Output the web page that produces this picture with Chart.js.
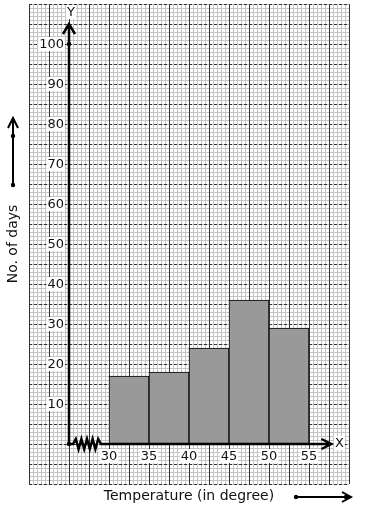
<!DOCTYPE html>
<html>
<head>
<meta charset="utf-8">
<script src="https://cdn.jsdelivr.net/npm/chart.js@4"></script>
<style>
  body { margin: 0; background: #fff; }
  canvas { display: block; }
</style>
</head>
<body>
<canvas id="histo" width="371" height="510"></canvas>
<script>
// dados do histograma
var classEdges = [30, 35, 40, 45, 50, 55];
var noOfDays = [17, 18, 24, 36, 29];
var xTickLabels = [30, 35, 40, 45, 50, 55];
var yTickLabels = [10, 20, 30, 40, 50, 60, 70, 80, 90, 100];

var xTitle = 'Temperature (in degree)';
var yTitle = 'No. of days';

var barPoints = noOfDays.map(function (d, i) {
  return { x: (classEdges[i] + classEdges[i + 1]) / 2, y: d };
});

var FONT = '13px "DejaVu Sans", sans-serif';
var TITLE_FONT = '14px "DejaVu Sans", sans-serif';

function labelWithBg(ctx, text, x, y, align) {
  ctx.font = FONT;
  var w = ctx.measureText(text).width;
  var left = align === 'right' ? x - w : (align === 'center' ? x - w / 2 : x);
  ctx.fillStyle = '#fff';
  ctx.fillRect(left - 1, y - 7, w + 2, 14);
  ctx.fillStyle = '#111';
  ctx.textAlign = 'left';
  ctx.textBaseline = 'middle';
  ctx.fillText(text, left, y + 1);
}

function dot(ctx, x, y) {
  ctx.beginPath();
  ctx.arc(x, y, 2.2, 0, Math.PI * 2);
  ctx.fillStyle = '#000';
  ctx.fill();
}

// papel milimetrado
var gridPlugin = {
  id: 'graphPaper',
  beforeDatasetsDraw: function (chart) {
    var ctx = chart.ctx;
    var xs = chart.scales.x, ys = chart.scales.y;
    var a = chart.chartArea;
    ctx.save();
    ctx.lineWidth = 1;
    // linhas finas
    ctx.strokeStyle = '#c4c4c4';
    ctx.beginPath();
    for (var v = xs.min; v <= xs.max + 0.01; v += 0.5) {
      var px = Math.round(xs.getPixelForValue(v)) + 0.5;
      ctx.moveTo(px, a.top); ctx.lineTo(px, a.bottom);
    }
    for (var u = ys.min; u <= ys.max + 0.01; u += 1) {
      var py = Math.round(ys.getPixelForValue(u)) + 0.5;
      ctx.moveTo(a.left, py); ctx.lineTo(a.right, py);
    }
    ctx.stroke();
    // linhas grossas verticais
    ctx.strokeStyle = '#333';
    ctx.beginPath();
    for (v = xs.min; v <= xs.max + 0.01; v += 2.5) {
      px = Math.round(xs.getPixelForValue(v)) + 0.5;
      ctx.moveTo(px, a.top); ctx.lineTo(px, a.bottom);
    }
    ctx.stroke();
    // linhas grossas horizontais (tracejadas)
    ctx.setLineDash([3, 2]);
    ctx.beginPath();
    for (u = ys.min; u <= ys.max + 0.01; u += 5) {
      py = Math.round(ys.getPixelForValue(u)) + 0.5;
      ctx.moveTo(a.left, py); ctx.lineTo(a.right, py);
    }
    ctx.stroke();
    ctx.restore();
  },
  afterDatasetsDraw: function (chart) {
    var ctx = chart.ctx;
    var xs = chart.scales.x, ys = chart.scales.y;
    var ox = xs.getPixelForValue(25), oy = ys.getPixelForValue(0);
    ctx.save();
    ctx.strokeStyle = '#000';
    ctx.lineWidth = 2.5;
    ctx.lineCap = 'butt';

    // eixo Y
    var top = ys.getPixelForValue(105);
    ctx.beginPath();
    ctx.moveTo(ox, oy); ctx.lineTo(ox, top);
    ctx.moveTo(ox - 6, top + 10); ctx.lineTo(ox, top); ctx.lineTo(ox + 6, top + 10);
    ctx.stroke();

    // eixo X com quebra
    var brk0 = ox + 4, brk1 = xs.getPixelForValue(29);
    var tip = xs.getPixelForValue(57.8);
    ctx.beginPath();
    ctx.moveTo(ox, oy); ctx.lineTo(brk0, oy);
    var n = 10, step = (brk1 - brk0) / n;
    for (var i = 1; i <= n; i++) {
      ctx.lineTo(brk0 + step * i, oy + (i === n ? 0 : (i % 2 ? -5 : 5)));
    }
    ctx.lineTo(tip, oy);
    ctx.moveTo(tip - 10, oy - 5); ctx.lineTo(tip, oy); ctx.lineTo(tip - 10, oy + 5);
    ctx.stroke();
    dot(ctx, ox, oy);
    dot(ctx, ox, ys.getPixelForValue(100));

    // rótulos dos eixos
    yTickLabels.forEach(function (t) {
      labelWithBg(ctx, String(t), ox - 5, ys.getPixelForValue(t), 'right');
    });
    xTickLabels.forEach(function (t) {
      labelWithBg(ctx, String(t), xs.getPixelForValue(t), oy + 12, 'center');
    });
    labelWithBg(ctx, 'Y', ox + 2, ys.getPixelForValue(108), 'center');
    labelWithBg(ctx, 'X', tip + 8, oy - 1, 'center');

    // títulos
    ctx.font = TITLE_FONT;
    ctx.fillStyle = '#111';
    ctx.textAlign = 'center';
    ctx.textBaseline = 'middle';
    ctx.fillText(xTitle, 189, 496);
    ctx.save();
    ctx.translate(13, 244);
    ctx.rotate(-Math.PI / 2);
    ctx.fillText(yTitle, 0, 0);
    ctx.restore();

    // setas laterais
    ctx.lineWidth = 2;
    ctx.beginPath();
    ctx.moveTo(13, 185); ctx.lineTo(13, 118);
    ctx.moveTo(8, 128); ctx.lineTo(13, 118); ctx.lineTo(18, 128);
    ctx.moveTo(296, 497); ctx.lineTo(351, 497);
    ctx.moveTo(342, 492); ctx.lineTo(351, 497); ctx.lineTo(342, 502);
    ctx.stroke();
    dot(ctx, 13, 185); dot(ctx, 13, 136);
    dot(ctx, 296, 497); dot(ctx, 346, 497);
    ctx.restore();
  }
};

document.addEventListener('DOMContentLoaded', function () {
  var histoChart = new Chart(document.getElementById('histo'), {
    type: 'bar',
    data: {
      datasets: [{
        data: barPoints,
        backgroundColor: '#999999',
        borderColor: '#000',
        borderWidth: 1,
        barPercentage: 1,
        categoryPercentage: 1
      }]
    },
    options: {
      responsive: false,
      animation: false,
      layout: { padding: { left: 29, right: 22, top: 4, bottom: 26 } },
      plugins: { legend: { display: false }, tooltip: { enabled: false } },
      scales: {
        x: { type: 'linear', min: 20, max: 60, offset: false, display: false },
        y: { type: 'linear', min: -10, max: 110, display: false }
      }
    },
    plugins: [gridPlugin]
  });
});
</script>
</body>
</html>
